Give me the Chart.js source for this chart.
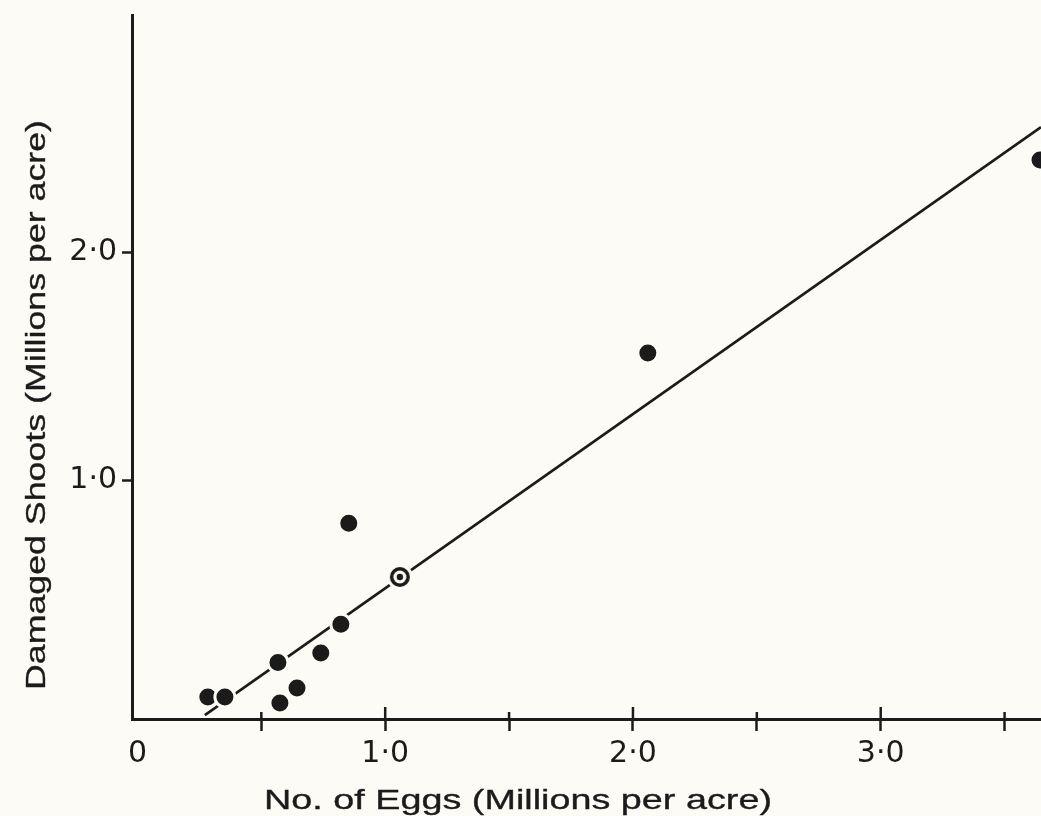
<!DOCTYPE html>
<html>
<head>
<meta charset="utf-8">
<script src="https://cdn.jsdelivr.net/npm/chart.js@4.4.0/dist/chart.umd.min.js"></script>
<style>
  html, body { margin: 0; padding: 0; background: #fcfbf6; }
</style>
</head>
<body>
<canvas id="chart" width="1041" height="816"></canvas>
<script>
// ---- data (millions per acre) ----
const eggs   = [0.284, 0.353, 0.567, 0.575, 0.644, 0.740, 0.821, 0.853, 2.060, 3.643];
const shoots = [0.048, 0.048, 0.200, 0.022, 0.088, 0.241, 0.368, 0.811, 1.557, 2.404];

// the single ringed point
const openEggs   = [1.059];
const openShoots = [0.575];

// fitted line, end points
const fitEggs   = [0.272, 3.647];
const fitShoots = [-0.031, 2.548];

const xTickValues = [0, 0.5, 1, 1.5, 2, 2.5, 3, 3.5];
const xTickLabels = ['0', '', '1·0', '', '2·0', '', '3·0', ''];
const yTickValues = [1, 2];
const yTickLabels = ['1·0', '2·0'];

const xTitle = 'No. of Eggs (Millions per acre)';
const yTitle = 'Damaged Shoots (Millions per acre)';

const INK = '#1b1b1b';
const BG = '#fcfbf6';

function ringMarker() {
  const c = document.createElement('canvas');
  c.width = c.height = 28;
  const g = c.getContext('2d');
  const dot = (r, col) => { g.fillStyle = col; g.beginPath(); g.arc(14, 14, r, 0, Math.PI * 2); g.fill(); };
  dot(13, BG);
  dot(10, INK);
  dot(6.5, BG);
  dot(3.2, INK);
  return c;
}

const pts = (xs, ys) => xs.map((x, i) => ({ x: x, y: ys[i] }));

// ticks crossing the axis line (the part above it)
const innerTicks = {
  id: 'innerTicks',
  afterDraw(chart) {
    const { ctx, chartArea } = chart;
    const x = chart.scales.x;
    ctx.save();
    ctx.strokeStyle = INK;
    ctx.lineWidth = 2.5;
    x.ticks.forEach(t => {
      if (t.value === 0) return;
      const px = x.getPixelForValue(t.value);
      const len = Number.isInteger(t.value) ? 12 : 7;
      ctx.beginPath();
      ctx.moveTo(px, chartArea.bottom);
      ctx.lineTo(px, chartArea.bottom - len);
      ctx.stroke();
    });
    ctx.restore();
  }
};

function drawWide(ctx, text, x, y, width, angle) {
  ctx.save();
  ctx.font = '28px "Liberation Sans", Arial, sans-serif';
  const w = ctx.measureText(text).width;
  ctx.translate(x, y);
  ctx.rotate(angle);
  ctx.scale(width / w, 1);
  ctx.textAlign = 'center';
  ctx.textBaseline = 'alphabetic';
  ctx.fillStyle = INK;
  ctx.strokeStyle = INK;
  ctx.lineWidth = 0.35;
  ctx.fillText(text, 0, 0);
  ctx.strokeText(text, 0, 0);
  ctx.restore();
}

const axisTitles = {
  id: 'axisTitles',
  afterDraw(chart) {
    drawWide(chart.ctx, xTitle, 518, 809, 508, 0);
    drawWide(chart.ctx, yTitle, 45, 405, 570, -Math.PI / 2);
  }
};

const tickFont = { family: '"DejaVu Sans", sans-serif', size: 30 };

const noPad = s => { s.paddingLeft = 0; s.paddingRight = 0; s.paddingTop = 0; s.paddingBottom = 0; };

new Chart(document.getElementById('chart'), {
  type: 'scatter',
  data: {
    datasets: [
      {
        label: 'Observed',
        data: pts(eggs, shoots),
        pointRadius: 10,
        pointHoverRadius: 10,
        pointBackgroundColor: INK,
        pointBorderColor: BG,
        pointBorderWidth: 3
      },
      {
        label: 'Ringed',
        data: pts(openEggs, openShoots),
        pointStyle: ringMarker(),
        pointRadius: 14
      },
      {
        type: 'line',
        label: 'Fit',
        data: pts(fitEggs, fitShoots),
        borderColor: INK,
        borderWidth: 2.6,
        pointRadius: 0,
        fill: false
      }
    ]
  },
  options: {
    responsive: false,
    devicePixelRatio: 1,
    animation: false,
    layout: { padding: { top: 15, right: 0, left: 0, bottom: 0 }, autoPadding: false },
    plugins: {
      legend: { display: false },
      tooltip: { enabled: false }
    },
    scales: {
      x: {
        type: 'linear',
        min: -0.022,
        max: 3.647,
        afterBuildTicks: s => { s.ticks = xTickValues.map(v => ({ value: v })); },
        afterFit: s => { s.height = 97; noPad(s); },
        ticks: {
          callback: (v, i) => xTickLabels[i],
          autoSkip: false,
          maxRotation: 0,
          color: INK,
          font: tickFont,
          padding: 5
        },
        grid: {
          drawOnChartArea: false,
          tickLength: 12,
          tickWidth: 2.5,
          tickColor: c => (c.tick && c.tick.value === 0) ? 'rgba(0,0,0,0)' : INK
        },
        border: { color: INK, width: 3 }
      },
      y: {
        type: 'linear',
        min: -0.048,
        max: 3.04,
        afterBuildTicks: s => { s.ticks = yTickValues.map(v => ({ value: v })); },
        afterFit: s => { s.width = 132; noPad(s); },
        ticks: {
          callback: (v, i) => yTickLabels[i],
          color: INK,
          font: tickFont,
          padding: 5
        },
        grid: {
          drawOnChartArea: false,
          tickLength: 10,
          tickWidth: 2.5,
          tickColor: INK
        },
        border: { color: INK, width: 3 }
      }
    }
  },
  plugins: [innerTicks, axisTitles]
});
</script>
</body>
</html>
